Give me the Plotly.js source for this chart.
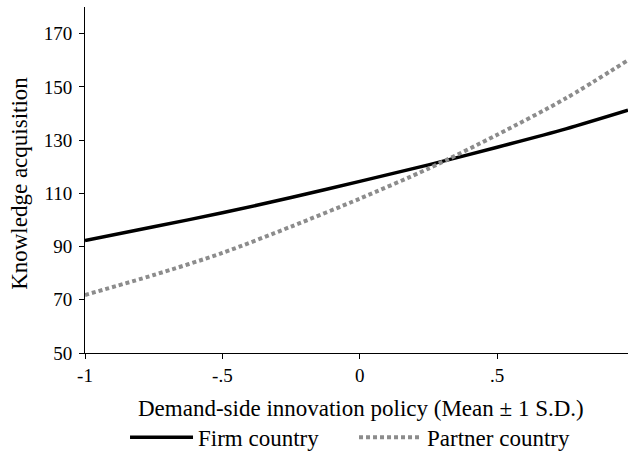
<!DOCTYPE html>
<html>
<head>
<meta charset="utf-8">
<script src="https://cdn.plot.ly/plotly-3.0.1.min.js"></script>
<style>html,body{margin:0;padding:0;background:#fff;}#chart{width:630px;height:455px;}</style>
</head>
<body>
<div id="chart"></div>
<script>
// Demand-side innovation policy (Mean ± 1 S.D.)
const policyX = [-1, -0.75, -0.5, -0.25, 0, 0.25, 0.5, 0.75, 0.976];
const firmCountry = [92.3, 97.4, 102.7, 108.4, 114.5, 120.7, 127.3, 134.2, 141.2];
const partnerCountry = [71.8, 79.3, 87.6, 97.5, 108.0, 119.3, 132.0, 145.7, 160.0];
const xTickVals = [-1, -0.5, 0, 0.5];
const xTickText = ['-1', '-.5', '0', '.5'];
const yTickVals = [50, 70, 90, 110, 130, 150, 170];
const seriesNames = ['Firm country', 'Partner country'];

const serif = 'Liberation Serif, Times New Roman, serif';

const traces = [
  {x: policyX, y: firmCountry, name: seriesNames[0], mode: 'lines',
   line: {color: '#000000', width: 3.5, shape: 'spline', smoothing: 0.8}},
  {x: policyX, y: partnerCountry, name: seriesNames[1], mode: 'lines',
   line: {color: '#8c8c8c', width: 4, dash: '4px,3px', shape: 'spline', smoothing: 0.8}}
];

const layout = {
  width: 630, height: 455,
  margin: {l: 85, r: 2, t: 7, b: 102, autoexpand: false},
  paper_bgcolor: '#ffffff', plot_bgcolor: '#ffffff',
  font: {family: serif, color: '#000000', size: 23},
  showlegend: true,
  legend: {orientation: 'h', x: 0.0737, xanchor: 'left', y: -0.244, yanchor: 'middle',
           font: {family: serif, size: 23, color: '#000'}, itemwidth: 63,
           entrywidth: 151, entrywidthmode: 'pixels', tracegroupgap: 0},
  xaxis: {range: [-1, 0.976], tickvals: xTickVals, ticktext: xTickText,
          showline: true, linecolor: '#000', linewidth: 1, ticks: 'outside', ticklen: 5,
          tickcolor: '#000', showgrid: false, zeroline: false, automargin: false,
          tickfont: {family: serif, size: 19, color: '#000'}},
  yaxis: {range: [50, 180], tickvals: yTickVals, automargin: false,
          showline: true, linecolor: '#000', linewidth: 1, ticks: 'outside', ticklen: 5,
          tickcolor: '#000', showgrid: false, zeroline: false, ticklabelstandoff: 3,
          tickfont: {family: serif, size: 19, color: '#000'}},
  annotations: [
    {text: 'Demand-side innovation policy (Mean ± 1 S.D.)', xref: 'paper', yref: 'paper',
     x: 0.508, y: -0.160, xanchor: 'center', yanchor: 'middle', showarrow: false,
     font: {family: serif, size: 23, color: '#000'}},
    {text: 'Knowledge acquisition', xref: 'paper', yref: 'paper', textangle: -90,
     x: -0.122, y: 0.491, xanchor: 'center', yanchor: 'middle', showarrow: false,
     font: {family: serif, size: 23, color: '#000'}}
  ]
};

Plotly.newPlot('chart', traces, layout, {displayModeBar: false, staticPlot: true});
</script>
</body>
</html>
